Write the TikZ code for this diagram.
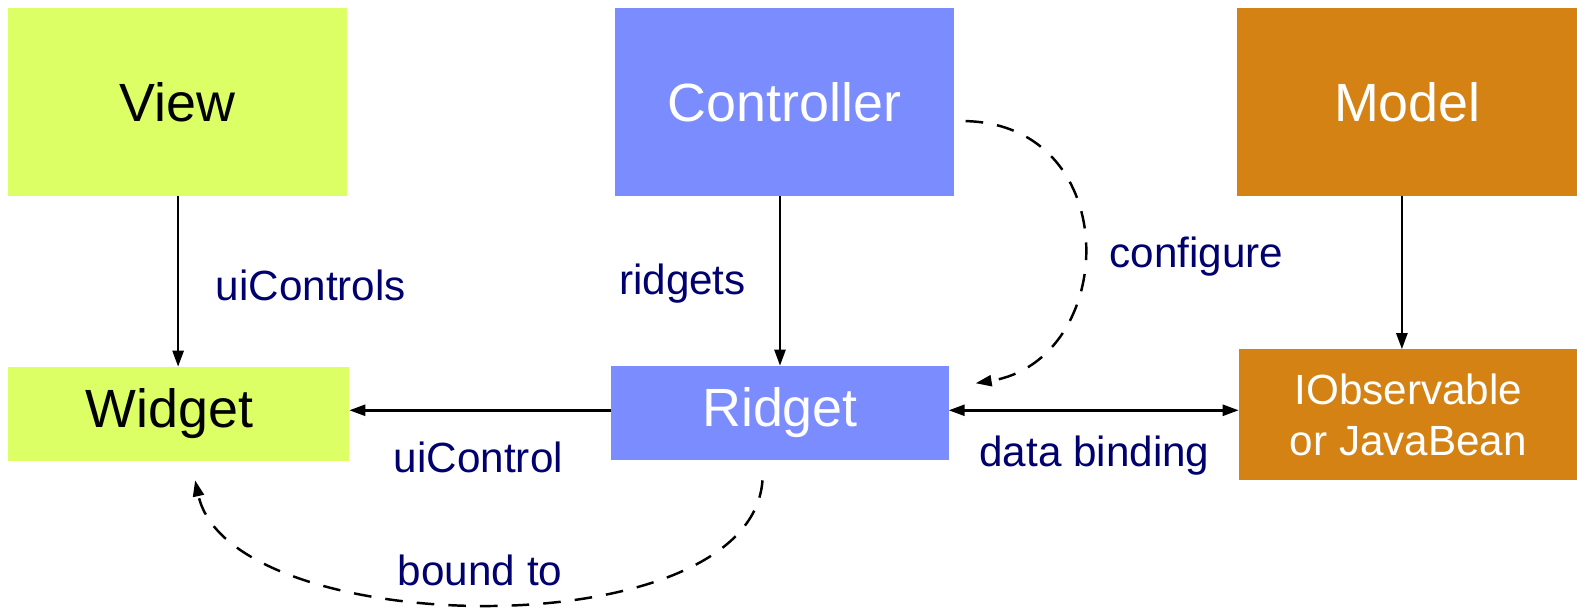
\documentclass[tikz,border=0pt]{standalone}
\usepackage{fontspec}
\setmainfont{Liberation Sans}
\usetikzlibrary{arrows.meta}
\definecolor{viewgreen}{RGB}{221,255,102}
\definecolor{ctrlblue}{RGB}{123,140,255}
\definecolor{modelorange}{RGB}{212,130,20}
\definecolor{labelnavy}{RGB}{0,0,110}
\tikzstyle{box}=[inner sep=0, outer sep=0, align=center]
\tikzstyle{bigbox}=[box, minimum height=1.88cm, font=\fontsize{15.3}{18}\selectfont]
\tikzstyle{smallbox}=[box, minimum height=0.94cm, font=\fontsize{15.3}{18}\selectfont]
\tikzstyle{lbl}=[anchor=west, inner sep=0, text=labelnavy, font=\fontsize{12}{14}\selectfont]
\tikzstyle{link}=[-{Triangle[length=0.16cm, width=0.11cm]}, line width=0.7pt]
\tikzstyle{loose}=[link, dashed, dash pattern=on 5pt off 4pt]

\begin{document}
\begin{tikzpicture}[x=0.01cm, y=-0.01cm]
        \useasboundingbox (0, 0) rectangle (1576, 614.6);
        % top row
        \node[bigbox, fill=viewgreen, minimum width=3.39cm] (View) at (177.5, 102) {View};
        \node[bigbox, fill=ctrlblue, text=white, minimum width=3.38cm] (Controller) at (784, 102) {Controller};
        \node[bigbox, fill=modelorange, text=white, minimum width=3.41cm] (Model) at (1406.5, 102) {Model};
        % bottom row
        \node[smallbox, fill=viewgreen, minimum width=3.41cm] (Widget) at (178.5, 413.5) {Widget\hspace{0.18cm}};
        \node[smallbox, fill=ctrlblue, text=white, minimum width=3.37cm] (Ridget) at (779.5, 412.5) {Ridget};
        \node[box, fill=modelorange, text=white, minimum width=3.39cm, minimum height=1.31cm,
              font=\fontsize{12}{14.5}\selectfont] (Bean) at (1407.5, 414.5) {IObservable\\or JavaBean};
        \coordinate (cfgstart) at (965, 121);
        \coordinate (cfgend) at (975, 383);
        \coordinate (bndstart) at (762, 480);
        \coordinate (bndend) at (195, 480);
        \draw[link] (View.south -| 178, 0) -- (Widget.north -| 178, 0);
        \draw[link] (Ridget.north |- Controller.south) -- (Ridget.north);
        \draw[link] (Model.south -| 1401, 0) -- (Bean.north -| 1401, 0);
        \draw[link] (Ridget.west |- 0, 410) -- (Widget.east |- 0, 410);
        \draw[line width=0.7pt, {Triangle[length=0.16cm, width=0.11cm]}-{Triangle[length=0.16cm, width=0.11cm]}]
            (Ridget.east |- 0, 410) -- (Bean.west |- 0, 410);
        \draw[loose] (cfgstart) .. controls (1125, 125) and (1118, 360) .. (cfgend);
        \draw[loose] (bndstart) .. controls (750, 650) and (230, 640) .. (bndend);
        % labels
        \node[lbl] (uiControls) at (215, 285) {uiControls};
        \node[lbl] (ridgets) at (618, 283) {ridgets};
        \node[lbl] (configure) at (1108, 256) {configure};
        \node[lbl] (uiControl) at (393, 457) {uiControl};
        \node[lbl] (binding) at (978, 455) {data binding};
        \node[lbl] (boundto) at (397, 570) {bound to};
    \end{tikzpicture}
\end{document}
